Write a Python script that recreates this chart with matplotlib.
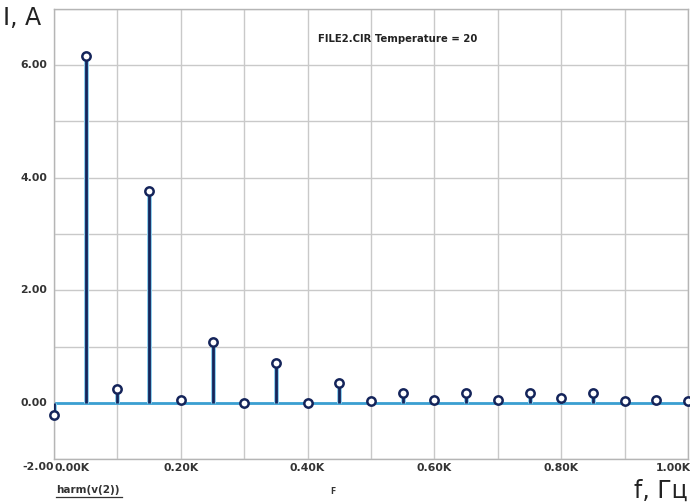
import matplotlib
matplotlib.use("Agg")
import matplotlib.pyplot as plt
from matplotlib.lines import Line2D

# harmonic spectrum, frequency in kHz
freq_k = [0.00, 0.05, 0.10, 0.15, 0.20, 0.25, 0.30, 0.35, 0.40, 0.45, 0.50,
          0.55, 0.60, 0.65, 0.70, 0.75, 0.80, 0.85, 0.90, 0.95, 1.00]
amps = [-0.21, 6.17, 0.25, 3.76, 0.05, 1.08, 0.00, 0.71, -0.01, 0.35, 0.04,
        0.17, 0.05, 0.17, 0.05, 0.18, 0.08, 0.17, 0.03, 0.05, 0.04]

y_ticks = [0, 2, 4, 6]
y_labels = ["0.00", "2.00", "4.00", "6.00"]
x_ticks = [0.0, 0.2, 0.4, 0.6, 0.8, 1.0]
x_labels = ["0.00K", "0.20K", "0.40K", "0.60K", "0.80K", "1.00K"]

navy = "#14245a"
light_blue = "#3a9fd2"
grid_c = "#c9c9c9"

fig = plt.figure(figsize=(6.9, 5.04), dpi=100)
ax = fig.add_axes([54 / 690, 45 / 504, 634 / 690, 450 / 504])

ax.set_xlim(0, 1.0)
ax.set_ylim(-1.0, 7.0)

# grid every 0.1K and every 1 unit
ax.set_xticks([i / 10 for i in range(11)])
ax.set_yticks(range(-1, 8))
ax.grid(True, color=grid_c, linestyle="-", linewidth=1.0)
ax.set_axisbelow(True)
ax.tick_params(length=0, labelbottom=False, labelleft=False)

for sp in ax.spines.values():
    sp.set_color("#b5b5b5")
    sp.set_linewidth(1)

# baseline
ax.axhline(0, color=light_blue, linewidth=2, zorder=2)

# stems (light halo + dark core) and open markers
ax.vlines(freq_k, 0, amps, color="#8fd0ee", linewidth=3.6, zorder=3)
ax.vlines(freq_k, 0, amps, color=navy, linewidth=2.0, zorder=4)
ax.plot(freq_k, amps, linestyle="none", marker="o", markersize=6,
        markerfacecolor="white", markeredgecolor=navy, markeredgewidth=1.8,
        zorder=5, clip_on=False)

# tick labels drawn as text
lab_kw = dict(fontsize=7.8, fontweight="bold", color="#333333")
for y, s in zip(y_ticks, y_labels):
    ax.annotate(s, xy=(0, y), xycoords=("axes fraction", "data"),
                xytext=(-5, 0), textcoords="offset points",
                ha="right", va="center", **lab_kw)
ax.annotate("-2.00", xy=(0, -1.0), xycoords=("axes fraction", "data"),
            xytext=(0, -6), textcoords="offset points",
            ha="right", va="center", **lab_kw)
for i, (x, s) in enumerate(zip(x_ticks, x_labels)):
    ha = "center"
    dx = 0
    if i == 0:
        ha, dx = "left", 0
    elif i == len(x_ticks) - 1:
        ha, dx = "right", 2
    ax.annotate(s, xy=(x, 0), xycoords=("data", "axes fraction"),
                xytext=(dx, -3), textcoords="offset points",
                ha=ha, va="top", **lab_kw)

# axis titles and labels
fig.text(3 / 690, 1 - 18 / 504, "I, A", fontsize=17, ha="left", va="center",
         color="#222222")
fig.text(688 / 690, 1 - 491 / 504, "f, Гц", fontsize=17, ha="right",
         va="center", color="#222222")
fig.text(56 / 690, 1 - 490 / 504, "harm(v(2))", fontsize=7.5,
         fontweight="bold", color="#333333", ha="left", va="center")
fig.add_artist(Line2D([56 / 690, 122 / 690], [1 - 497 / 504, 1 - 497 / 504],
                      color="#333333", linewidth=0.9))
fig.text(333 / 690, 1 - 491 / 504, "F", fontsize=5.5, fontweight="bold",
         color="#333333", ha="center", va="center")
fig.text(398 / 690, 1 - 39 / 504, "FILE2.CIR Temperature = 20", fontsize=7.3,
         fontweight="bold", color="#222222", ha="center", va="center")

fig.savefig("out.png", dpi=100)
